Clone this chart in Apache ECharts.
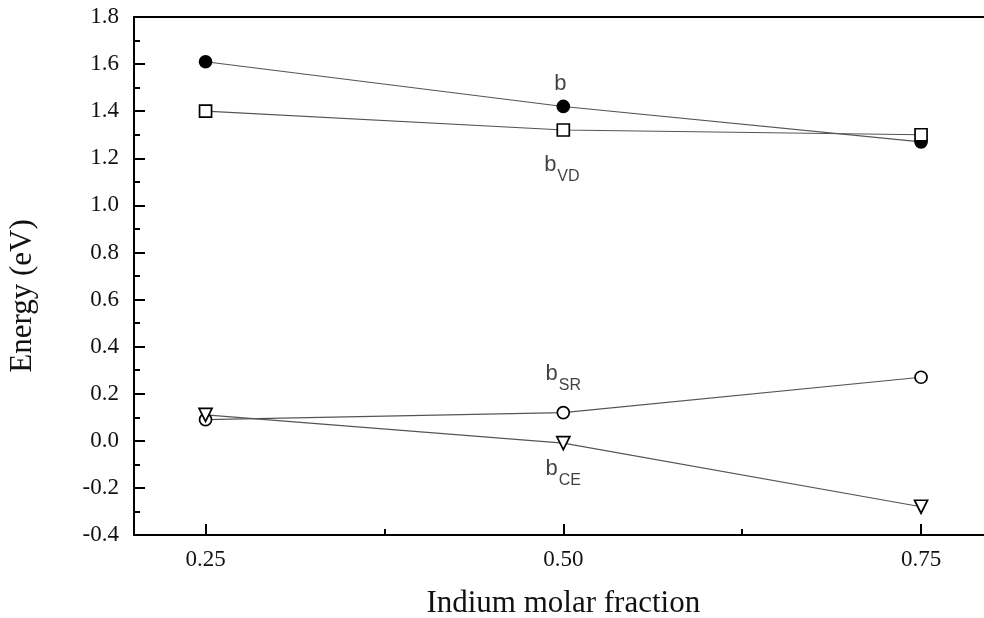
<!DOCTYPE html>
<html>
<head>
<meta charset="utf-8">
<script src="https://cdn.jsdelivr.net/npm/echarts@6/dist/echarts.min.js"></script>
<style>
  html, body { margin: 0; padding: 0; background: #fff; }
  #chart { width: 984px; height: 618px; }
</style>
</head>
<body>
<div id="chart"></div>
<script>
// Indium molar fraction (x) and the bowing-parameter components (eV)
const fractions = [0.25, 0.50, 0.75];
const bTotal = [1.61, 1.42, 1.27];
const bVD = [1.40, 1.32, 1.30];
const bSR = [0.09, 0.12, 0.27];
const bCE = [0.11, -0.01, -0.28];

const xMajorTicks = [0.25, 0.50, 0.75];
const xMinorTicks = [0.375, 0.625];

// Curve annotations: [x, y, rich-text label]
const annotations = [
  [0.498, 1.515, '{m|b}'],
  [0.499, 1.152, '{b|b}{s|VD}'],
  [0.500, 0.267, '{b|b}{s|SR}'],
  [0.500, -0.139, '{b|b}{s|CE}']
];

const serif = '"Liberation Serif", "DejaVu Serif", serif';
const sans = '"Liberation Sans", Arial, sans-serif';

const chart = echarts.init(document.getElementById('chart'), null, { renderer: 'canvas' });

function pairs(ys) { return fractions.map((x, i) => [x, ys[i]]); }

const lineStyle = { color: '#555', width: 1.2 };
function seriesOf(name, ys, symbol, filled) {
  return {
    name, type: 'line', data: pairs(ys), xAxisIndex: 0, yAxisIndex: 0,
    symbol, symbolSize: symbol === 'triangle' ? 13 : 12,
    symbolRotate: symbol === 'triangle' ? 180 : 0,
    showAllSymbol: true,
    lineStyle,
    itemStyle: { color: filled ? '#000' : '#fff', borderColor: '#000', borderWidth: 1.7 },
    emphasis: { disabled: true },
    z: 3
  };
}

const option = {
  animation: false,
  backgroundColor: '#fff',
  grid: { left: 134, top: 17, height: 518, width: 858.6, outerBoundsMode: 'none', containLabel: false },
  xAxis: [
    {
      type: 'value', min: 0.2, max: 0.8, position: 'bottom',
      name: 'Indium molar fraction', nameLocation: 'middle', nameGap: 53,
      nameTextStyle: { fontFamily: serif, fontSize: 31, color: '#111' },
      axisLine: { show: true, onZero: false, lineStyle: { color: '#000', width: 2 } },
      axisTick: { show: true, inside: true, length: 11, customValues: xMajorTicks, lineStyle: { color: '#000', width: 2 } },
      axisLabel: { show: true, customValues: xMajorTicks, formatter: v => v.toFixed(2), fontFamily: serif, fontSize: 23, color: '#111', margin: 13 },
      splitLine: { show: false }
    },
    {
      type: 'value', min: 0.2, max: 0.8, position: 'bottom',
      axisLine: { show: false, onZero: false },
      axisTick: { show: true, inside: true, length: 6, customValues: xMinorTicks, lineStyle: { color: '#000', width: 2 } },
      axisLabel: { show: false },
      splitLine: { show: false }
    },
    {
      type: 'value', min: 0.2, max: 0.8, position: 'top',
      axisLine: { show: true, onZero: false, lineStyle: { color: '#000', width: 2 } },
      axisTick: { show: false }, axisLabel: { show: false }, splitLine: { show: false }
    }
  ],
  yAxis: [
    {
      type: 'value', min: -0.4, max: 1.8, interval: 0.2, position: 'left',
      name: 'Energy (eV)', nameLocation: 'middle', nameGap: 96, nameRotate: 90,
      nameTextStyle: { fontFamily: serif, fontSize: 31, color: '#111', padding: [0, 40, 0, 0] },
      axisLine: { show: true, onZero: false, lineStyle: { color: '#000', width: 2 } },
      axisTick: { show: true, inside: true, length: 11, lineStyle: { color: '#000', width: 2 } },
      minorTick: { show: true, splitNumber: 2, length: 6, lineStyle: { color: '#000', width: 2 } },
      axisLabel: { fontFamily: serif, fontSize: 23, color: '#111', margin: 15, formatter: v => v.toFixed(1) },
      splitLine: { show: false }
    }
  ],
  series: [
    seriesOf('b', bTotal, 'circle', true),
    seriesOf('bVD', bVD, 'rect', false),
    seriesOf('bSR', bSR, 'circle', false),
    seriesOf('bCE', bCE, 'triangle', false),
    {
      type: 'scatter', xAxisIndex: 0, yAxisIndex: 0,
      data: annotations.map(a => ({ value: [a[0], a[1]], label: { formatter: a[2] } })),
      symbolSize: 0, silent: true,
      label: {
        show: true, position: 'inside', color: '#111',
        fontFamily: sans, fontSize: 22,
        rich: {
          m: { fontFamily: sans, fontSize: 22, color: '#111', lineHeight: 22 },
          b: { fontFamily: sans, fontSize: 22, color: '#111', lineHeight: 22, verticalAlign: 'top' },
          s: { fontFamily: sans, fontSize: 16, color: '#111', lineHeight: 31, verticalAlign: 'bottom', padding: [0, 0, 0, 1] }
        }
      },
      z: 4
    }
  ]
};

chart.setOption(option);
</script>
</body>
</html>
